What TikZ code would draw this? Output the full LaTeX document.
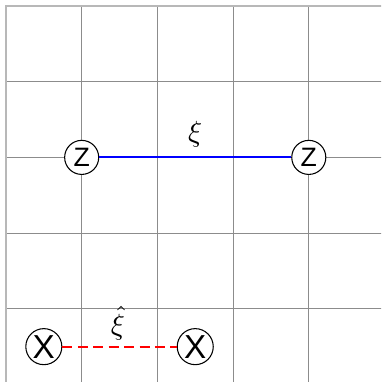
\documentclass[tikz,border=0pt]{standalone}
\usepackage{fontspec}
\setsansfont{Liberation Sans}
\begin{document}
\begin{tikzpicture}[x=1cm,y=1cm,
  gridline/.style={draw=black!45, line width=0.4pt},
  edgeline/.style={draw=black!28, line width=0.7pt},
  zq/.style={circle, draw=black, fill=white, line width=0.4pt, inner sep=0pt, minimum size=0.45cm, font=\sffamily\fontsize{10}{10}\selectfont},
  xq/.style={circle, draw=black, fill=white, line width=0.4pt, inner sep=0pt, minimum size=0.476cm, font=\sffamily\fontsize{12.5}{12}\selectfont},
  zline/.style={draw=blue, line width=0.8pt},
  xline/.style={draw=red, line width=0.8pt, dash pattern=on 3.8pt off 2pt},
  lbl/.style={font=\fontsize{10.5}{11}\selectfont}
]
\useasboundingbox (-0.079,-4.967) rectangle (4.954,0.079);
\begin{scope}
\clip (-0.079,-4.967) rectangle (4.954,0.079);
\foreach \i in {1,...,5} {
  \draw[gridline] (\i,0) -- (\i,-5.2);
  \draw[gridline] (0,-\i) -- (5.2,-\i);
}
\draw[edgeline] (0,-5.2) -- (0,0) -- (5.2,0);
\end{scope}
\node[zq] (z1) at (1,-2) {Z};
\node[zq] (z2) at (4,-2) {Z};
\node[xq] (x1) at (0.5,-4.5) {X};
\node[xq] (x2) at (2.5,-4.5) {X};
\draw[zline] (z1) -- node[lbl, above, inner sep=3.6pt] (xi) {$\xi$} (z2);
\draw[xline] (x1) -- node[lbl, above, inner sep=2.2pt, xshift=-0.02cm] (xihat) {$\hat{\xi}$} (x2);
\end{tikzpicture}
\end{document}
